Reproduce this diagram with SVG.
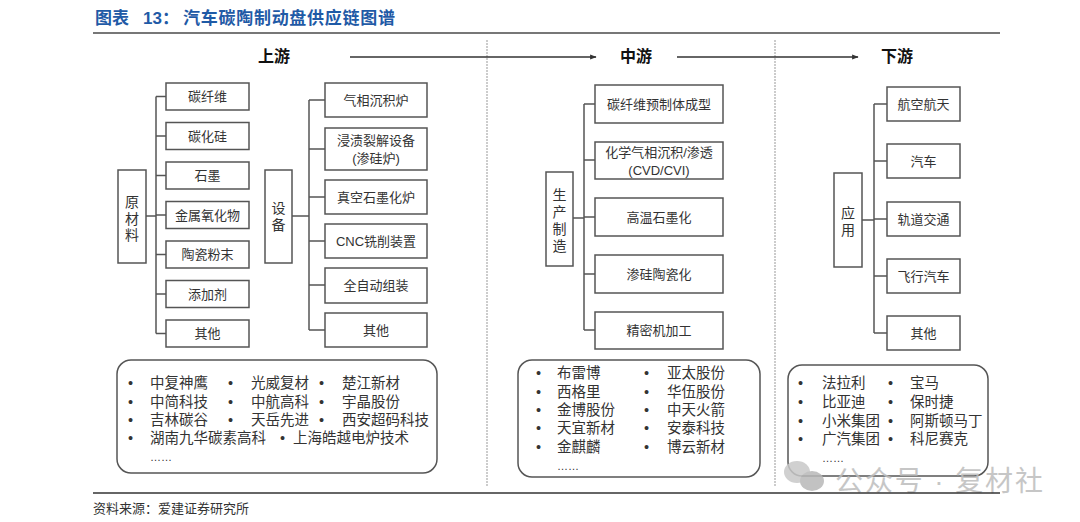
<svg xmlns="http://www.w3.org/2000/svg" width="1080" height="522" viewBox="0 0 1080 522">
<style>
text{font-family:"Liberation Sans","Noto Sans CJK SC",sans-serif;fill:#333}
.t{font-size:17px;font-weight:bold;fill:#1f5aa6}
.h{font-size:16px;font-weight:bold;fill:#111;text-anchor:middle;dominant-baseline:central}
.b{fill:#fff;stroke:#555;stroke-width:1.5}
.l{font-size:13px;text-anchor:middle;dominant-baseline:central}
.v{font-size:14px;text-anchor:middle;dominant-baseline:central}
.c{fill:none;stroke:#555;stroke-width:1.5}
.s{fill:none;stroke:#ccc;stroke-width:2;stroke-dasharray:2 1}
.r{fill:#fff;stroke:#555;stroke-width:1.5}
.li{font-size:14.5px}
.a{fill:none;stroke:#333;stroke-width:1.3}
</style>
<defs>
<marker id="ah" viewBox="0 0 10 10" refX="9" refY="5" markerWidth="5" markerHeight="5" orient="auto"><path d="M0,1 L10,5 L0,9 Z" fill="#333"/></marker>
</defs>
<rect width="1080" height="522" fill="#fff"/>
<g id="title">
<text class="t" x="95" y="24">图表</text>
<text class="t" x="143" y="24">13：</text>
<text class="t" x="183" y="24" textLength="212">汽车碳陶制动盘供应链图谱</text>
</g>
<line x1="93" y1="33" x2="1000" y2="33" stroke="#777" stroke-width="2"/>
<g id="separators">
<line class="s" x1="487" y1="40" x2="487" y2="487"/>
<line class="s" x1="775" y1="40" x2="775" y2="487"/>
</g>
<g id="headers">
<text class="h" x="274" y="56">上游</text>
<text class="h" x="636" y="56">中游</text>
<text class="h" x="897" y="56">下游</text>
</g>
<g id="connectors">
<line class="a" x1="350" y1="57" x2="596" y2="57" marker-end="url(#ah)"/>
<line class="a" x1="677" y1="57" x2="858" y2="57" marker-end="url(#ah)"/>
<path class="c" d="M146,216 H156 M156,96.5 V333.5 M156,96.5 H166 M156,136 H166 M156,175.5 H166 M156,215 H166 M156,254.5 H166 M156,294 H166 M156,333.5 H166"/>
<path class="c" d="M292,216 H309 M309,100 V330 M309,100 H325 M309,149 H325 M309,197 H325 M309,241 H325 M309,285 H325 M309,330 H325"/>
<path class="c" d="M573,218 H584 M584,104 V330 M584,104 H595 M584,160 H595 M584,217 H595 M584,274 H595 M584,330 H595"/>
<path class="c" d="M862,220 H874 M874,104 V333 M874,104 H887 M874,161 H887 M874,219 H887 M874,276 H887 M874,333 H887"/>
</g>
<g id="raw">
<rect class="b" x="118" y="170" width="28" height="93"/>
<text class="v" x="132" y="202">原</text><text class="v" x="132" y="218.5">材</text><text class="v" x="132" y="235">料</text>
</g>
<g id="raw-items">
<rect class="b" x="166" y="83" width="83" height="27"/><text class="l" x="207.5" y="96.5">碳纤维</text>
<rect class="b" x="166" y="122.5" width="83" height="27"/><text class="l" x="207.5" y="136">碳化硅</text>
<rect class="b" x="166" y="162" width="83" height="27"/><text class="l" x="207.5" y="175.5">石墨</text>
<rect class="b" x="166" y="201.5" width="83" height="27"/><text class="l" x="207.5" y="215">金属氧化物</text>
<rect class="b" x="166" y="241" width="83" height="27"/><text class="l" x="207.5" y="254.5">陶瓷粉末</text>
<rect class="b" x="166" y="280.5" width="83" height="27"/><text class="l" x="207.5" y="294">添加剂</text>
<rect class="b" x="166" y="320" width="83" height="27"/><text class="l" x="207.5" y="333.5">其他</text>
</g>
<g id="equip">
<rect class="b" x="265" y="170" width="27" height="93"/>
<text class="v" x="278.5" y="208">设</text><text class="v" x="278.5" y="225">备</text>
</g>
<g id="equip-items">
<rect class="b" x="325" y="83" width="102" height="34"/><text class="l" x="376" y="100">气相沉积炉</text>
<rect class="b" x="325" y="128" width="102" height="42"/><text class="l" x="376" y="140">浸渍裂解设备</text><text class="l" x="376" y="158">(渗硅炉)</text>
<rect class="b" x="325" y="180" width="102" height="34"/><text class="l" x="376" y="197">真空石墨化炉</text>
<rect class="b" x="325" y="224" width="102" height="34"/><text class="l" x="376" y="241">CNC铣削装置</text>
<rect class="b" x="325" y="268" width="102" height="35"/><text class="l" x="376" y="285.5">全自动组装</text>
<rect class="b" x="325" y="313" width="102" height="34"/><text class="l" x="376" y="330">其他</text>
</g>
<g id="mfg">
<rect class="b" x="546" y="172" width="27" height="94"/>
<text class="v" x="559.5" y="195">生</text><text class="v" x="559.5" y="212">产</text><text class="v" x="559.5" y="229">制</text><text class="v" x="559.5" y="246">造</text>
</g>
<g id="mfg-items">
<rect class="b" x="595" y="85" width="128" height="38"/><text class="l" x="659" y="104">碳纤维预制体成型</text>
<rect class="b" x="595" y="142" width="128" height="37"/><text class="l" x="659" y="152">化学气相沉积/渗透</text><text class="l" x="659" y="170">(CVD/CVI)</text>
<rect class="b" x="595" y="198" width="128" height="38"/><text class="l" x="659" y="217">高温石墨化</text>
<rect class="b" x="595" y="255" width="128" height="38"/><text class="l" x="659" y="274">渗硅陶瓷化</text>
<rect class="b" x="595" y="312" width="128" height="37"/><text class="l" x="659" y="330.5">精密机加工</text>
</g>
<g id="app">
<rect class="b" x="834" y="173" width="28" height="94"/>
<text class="v" x="848" y="213">应</text><text class="v" x="848" y="230">用</text>
</g>
<g id="app-items">
<rect class="b" x="887" y="87" width="73" height="34"/><text class="l" x="923.5" y="104">航空航天</text>
<rect class="b" x="887" y="144" width="73" height="34"/><text class="l" x="923.5" y="161">汽车</text>
<rect class="b" x="887" y="202" width="73" height="34"/><text class="l" x="923.5" y="219">轨道交通</text>
<rect class="b" x="887" y="259" width="73" height="34"/><text class="l" x="923.5" y="276">飞行汽车</text>
<rect class="b" x="887" y="316" width="73" height="34"/><text class="l" x="923.5" y="333">其他</text>
</g>
<g id="upstream-companies">
<rect class="r" x="117" y="360" width="320" height="113" rx="14"/>
<g class="li">
<text x="128" y="388">•</text><text x="150" y="388">中复神鹰</text><text x="228" y="388">•</text><text x="251" y="388">光威复材</text><text x="319" y="388">•</text><text x="342" y="388">楚江新材</text>
<text x="128" y="407">•</text><text x="150" y="407">中简科技</text><text x="228" y="407">•</text><text x="251" y="407">中航高科</text><text x="319" y="407">•</text><text x="342" y="407">宇晶股份</text>
<text x="128" y="425">•</text><text x="150" y="425">吉林碳谷</text><text x="228" y="425">•</text><text x="251" y="425">天岳先进</text><text x="319" y="425">•</text><text x="342" y="425">西安超码科技</text>
<text x="128" y="443">•</text><text x="150" y="443">湖南九华碳素高科</text><text x="280" y="443">•</text><text x="293" y="443">上海皓越电炉技术</text>
</g>
<text x="150" y="461" font-size="11" fill="#777">……</text>
</g>
<g id="midstream-companies">
<rect class="r" x="518" y="360" width="242" height="117" rx="14"/>
<g class="li">
<text x="536" y="378">•</text><text x="557" y="378">布雷博</text><text x="644" y="378">•</text><text x="667" y="378">亚太股份</text>
<text x="536" y="397">•</text><text x="557" y="397">西格里</text><text x="644" y="397">•</text><text x="667" y="397">华伍股份</text>
<text x="536" y="415">•</text><text x="557" y="415">金博股份</text><text x="644" y="415">•</text><text x="667" y="415">中天火箭</text>
<text x="536" y="433">•</text><text x="557" y="433">天宜新材</text><text x="644" y="433">•</text><text x="667" y="433">安泰科技</text>
<text x="536" y="452">•</text><text x="557" y="452">金麒麟</text><text x="644" y="452">•</text><text x="667" y="452">博云新材</text>
</g>
<text x="557" y="470" font-size="11" fill="#777">……</text>
</g>
<g id="downstream-companies">
<rect class="r" x="788" y="365" width="200" height="111" rx="14"/>
<g class="li">
<text x="798" y="388">•</text><text x="822" y="388">法拉利</text><text x="888" y="388">•</text><text x="910" y="388">宝马</text>
<text x="798" y="407">•</text><text x="822" y="407">比亚迪</text><text x="888" y="407">•</text><text x="910" y="407">保时捷</text>
<text x="798" y="426">•</text><text x="822" y="426">小米集团</text><text x="888" y="426">•</text><text x="910" y="426">阿斯顿马丁</text>
<text x="798" y="444">•</text><text x="822" y="444">广汽集团</text><text x="888" y="444">•</text><text x="910" y="444">科尼赛克</text>
</g>
<text x="822" y="462" font-size="11" fill="#777">……</text>
</g>
<g id="watermark" opacity="0.85">
<ellipse cx="797" cy="472" rx="13" ry="11" fill="#c8c8c8"/>
<ellipse cx="812" cy="481" rx="12" ry="10" fill="#b8b8b8"/>
<text x="835" y="491" font-size="28" style="fill:#bdbdbd" textLength="208">公众号 · 复材社</text>
</g>
<line x1="93" y1="493" x2="1000" y2="493" stroke="#333" stroke-width="1.5"/>
<text x="93" y="513" font-size="13">资料来源：爱建证券研究所</text>
</svg>
